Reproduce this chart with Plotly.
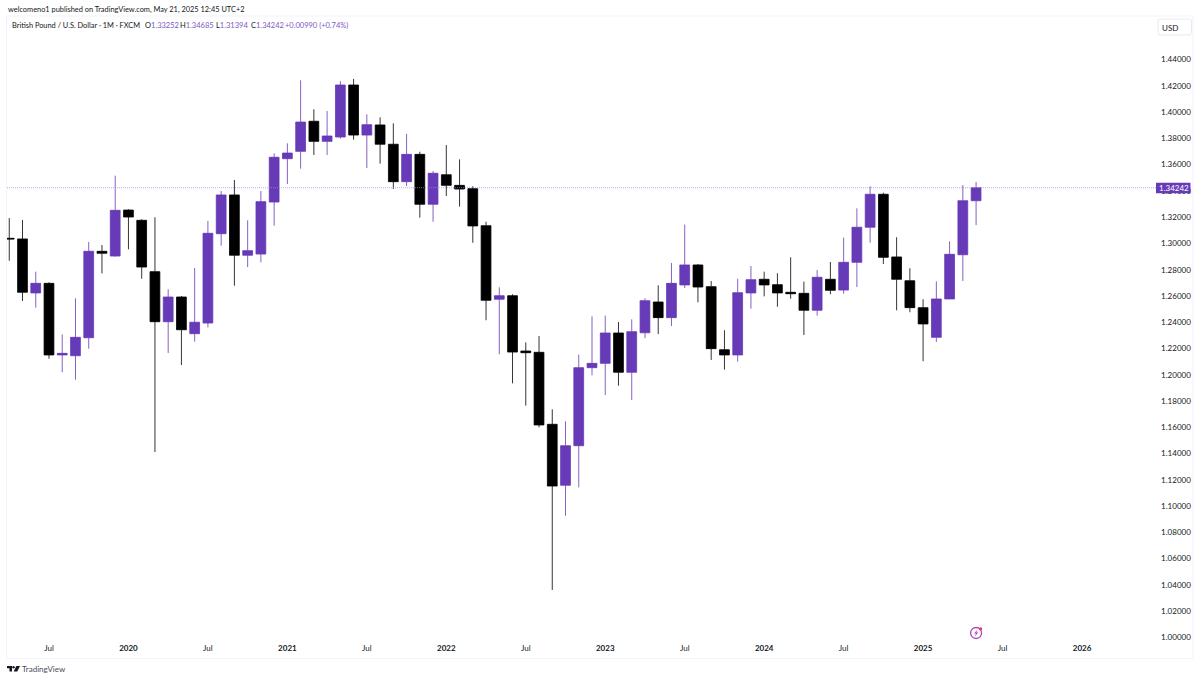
# plot.py: GBP/USD monthly candles, TradingView style snapshot
import plotly.graph_objects as go

# monthly bars, Apr 2019 .. May 2025
month_labels = [
    '2019-04', '2019-05', '2019-06', '2019-07', '2019-08', '2019-09', '2019-10', '2019-11', '2019-12',
    '2020-01', '2020-02', '2020-03', '2020-04', '2020-05', '2020-06', '2020-07', '2020-08', '2020-09', '2020-10', '2020-11', '2020-12',
    '2021-01', '2021-02', '2021-03', '2021-04', '2021-05', '2021-06', '2021-07', '2021-08', '2021-09', '2021-10', '2021-11', '2021-12',
    '2022-01', '2022-02', '2022-03', '2022-04', '2022-05', '2022-06', '2022-07', '2022-08', '2022-09', '2022-10', '2022-11', '2022-12',
    '2023-01', '2023-02', '2023-03', '2023-04', '2023-05', '2023-06', '2023-07', '2023-08', '2023-09', '2023-10', '2023-11', '2023-12',
    '2024-01', '2024-02', '2024-03', '2024-04', '2024-05', '2024-06', '2024-07', '2024-08', '2024-09', '2024-10', '2024-11', '2024-12',
    '2025-01', '2025-02', '2025-03', '2025-04', '2025-05',
]
opens = [
    1.3039, 1.3034, 1.2623, 1.2696, 1.2151, 1.2145, 1.2282, 1.2940, 1.2904,
    1.3254, 1.3176, 1.2785, 1.2404, 1.2592, 1.2313, 1.2394, 1.3074, 1.3369, 1.2910, 1.2919, 1.3315,
    1.3645, 1.3701, 1.3930, 1.3777, 1.3810, 1.4206, 1.3825, 1.3902, 1.3755, 1.3470, 1.3678, 1.3298,
    1.3523, 1.3442, 1.3417, 1.3135, 1.2575, 1.2602, 1.2181, 1.2171, 1.1623, 1.1159, 1.1460, 1.2054,
    1.2087, 1.2318, 1.2019, 1.2320, 1.2554, 1.2435, 1.2684, 1.2836, 1.2671, 1.2191, 1.2151, 1.2623,
    1.2727, 1.2686, 1.2628, 1.2620, 1.2491, 1.2727, 1.2645, 1.2856, 1.3123, 1.3374, 1.2897, 1.2716,
    1.2511, 1.2285, 1.2577, 1.2914, 1.33252,
]
highs = [
    1.3193, 1.3178, 1.2785, 1.2704, 1.2308, 1.2582, 1.3011, 1.2988, 1.3516,
    1.3260, 1.3184, 1.3199, 1.2651, 1.2600, 1.2813, 1.3171, 1.3399, 1.3483, 1.3176, 1.3399, 1.3686,
    1.3762, 1.4242, 1.4021, 1.4008, 1.4236, 1.4252, 1.3983, 1.3960, 1.3914, 1.3833, 1.3698, 1.3551,
    1.3749, 1.3640, 1.3435, 1.3165, 1.2666, 1.2613, 1.2247, 1.2295, 1.1737, 1.1646, 1.2153, 1.2445,
    1.2450, 1.2402, 1.2422, 1.2582, 1.2681, 1.2851, 1.3143, 1.2843, 1.2714, 1.2339, 1.2731, 1.2828,
    1.2785, 1.2773, 1.2894, 1.2709, 1.2798, 1.2859, 1.3044, 1.3267, 1.3435, 1.3386, 1.3047, 1.2811,
    1.2575, 1.2712, 1.3016, 1.3445, 1.34685,
]
lows = [
    1.2868, 1.2562, 1.2511, 1.2122, 1.2019, 1.1963, 1.2198, 1.2772, 1.2899,
    1.2955, 1.2731, 1.1412, 1.2166, 1.2074, 1.2252, 1.2361, 1.2983, 1.2678, 1.2820, 1.2856, 1.3135,
    1.3452, 1.3569, 1.3673, 1.3673, 1.3798, 1.3790, 1.3574, 1.3607, 1.3414, 1.3437, 1.3196, 1.3165,
    1.3361, 1.3280, 1.3005, 1.2415, 1.2156, 1.1935, 1.1765, 1.1600, 1.0362, 1.0927, 1.1143, 1.1996,
    1.1846, 1.1917, 1.1808, 1.2278, 1.2310, 1.2371, 1.2661, 1.2552, 1.2113, 1.2039, 1.2100, 1.2503,
    1.2597, 1.2518, 1.2579, 1.2303, 1.2450, 1.2613, 1.2617, 1.2668, 1.3005, 1.2843, 1.2491, 1.2476,
    1.2103, 1.2250, 1.2577, 1.2714, 1.31394,
]
closes = [
    1.3034, 1.2628, 1.2696, 1.2151, 1.2163, 1.2285, 1.2940, 1.2925, 1.3252,
    1.3201, 1.2820, 1.2404, 1.2592, 1.2343, 1.2400, 1.3077, 1.3369, 1.2910, 1.2945, 1.3318, 1.3656,
    1.3688, 1.3924, 1.3777, 1.3818, 1.4206, 1.3825, 1.3904, 1.3755, 1.3470, 1.3678, 1.3298, 1.3534,
    1.3442, 1.3414, 1.3133, 1.2567, 1.2602, 1.2173, 1.2168, 1.1618, 1.1153, 1.1460, 1.2054, 1.2087,
    1.2318, 1.2019, 1.2328, 1.2564, 1.2435, 1.2696, 1.2836, 1.2668, 1.2199, 1.2151, 1.2625, 1.2724,
    1.2684, 1.2623, 1.2617, 1.2491, 1.2742, 1.2643, 1.2856, 1.3123, 1.3374, 1.2894, 1.2727, 1.2511,
    1.2387, 1.2577, 1.2917, 1.3325, 1.34242,
]
last_price = 1.34242

time_tick_pos = [3, 9, 15, 21, 27, 33, 39, 45, 51, 57, 63, 69, 75, 81]
time_tick_text = ['Jul', '<b>2020</b>', 'Jul', '<b>2021</b>', 'Jul', '<b>2022</b>', 'Jul', '<b>2023</b>',
                  'Jul', '<b>2024</b>', 'Jul', '<b>2025</b>', 'Jul', '<b>2026</b>']
price_ticks = [1.00, 1.02, 1.04, 1.06, 1.08, 1.10, 1.12, 1.14, 1.16, 1.18, 1.20, 1.22, 1.24,
               1.26, 1.28, 1.30, 1.32, 1.34, 1.36, 1.38, 1.40, 1.42, 1.44]

PURPLE = '#673ab7'
VALUE_PURPLE = '#7e57c2'
INK = '#131722'
FONT = 'Lato'
W, H = 1200, 680
PLOT_L, PLOT_R, PLOT_T, PLOT_B = 6.5, 1156, 16, 642


def px(x):
    return (x - PLOT_L) / (PLOT_R - PLOT_L)


def py(y):
    return (PLOT_B - y) / (PLOT_B - PLOT_T)


def path(points):
    return 'M' + ' L'.join('%.5f,%.5f' % (px(x), py(y)) for x, y in points) + ' Z'


def rounded(x0, y0, x1, y1, r):
    p = lambda x, y: '%.5f,%.5f' % (px(x), py(y))
    return ('M' + p(x0 + r, y0) + ' L' + p(x1 - r, y0) + ' Q' + p(x1, y0) + ' ' + p(x1, y0 + r)
            + ' L' + p(x1, y1 - r) + ' Q' + p(x1, y1) + ' ' + p(x1 - r, y1)
            + ' L' + p(x0 + r, y1) + ' Q' + p(x0, y1) + ' ' + p(x0, y1 - r)
            + ' L' + p(x0, y0 + r) + ' Q' + p(x0, y0) + ' ' + p(x0 + r, y0) + ' Z')


def box(x0, y0, x1, y1, **kw):
    return dict(type='rect', xref='paper', yref='paper', x0=px(x0), x1=px(x1), y0=py(y0), y1=py(y1), **kw)


def ring(x, y, r, **kw):
    return dict(type='circle', xref='paper', yref='paper', x0=px(x - r), x1=px(x + r),
                y0=py(y + r), y1=py(y - r), **kw)


def label(x, y, text, anchor='left', size=8, color=INK, **kw):
    return dict(xref='paper', yref='paper', x=px(x), y=py(y), text=text, showarrow=False, xanchor=anchor,
                yanchor='middle', font=dict(family=FONT, size=size, color=color), **kw)


def ohlc_item(x, letter, value):
    return label(x - 2, 26, letter + '<span style="color:%s">%s</span>' % (VALUE_PURPLE, value), size=7.5)


fig = go.Figure(go.Candlestick(
    x=list(range(len(month_labels))), open=opens, high=highs, low=lows, close=closes,
    text=month_labels, whiskerwidth=0,
    increasing=dict(fillcolor=PURPLE, line=dict(color=PURPLE, width=0.8)),
    decreasing=dict(fillcolor='#000000', line=dict(color='#000000', width=0.8))))

shapes = [
    box(6, 16, 1193, 658.5, line=dict(color='#f0f3fa', width=1), layer='below'),
    dict(type='line', xref='paper', yref='y', x0=0, x1=1, y0=last_price, y1=last_price,
         line=dict(color='#a78bdb', width=0.7, dash='1px,1px')),
    box(1156, 182.7, 1190.5, 193.2, fillcolor=PURPLE, line=dict(width=0)),
    dict(type='path', xref='paper', yref='paper', path=rounded(1158, 19, 1191.5, 35, 2.5),
         line=dict(color='#e8eaf0', width=1), fillcolor='white'),
    # lightning badge
    ring(976, 633, 5.5, line=dict(color='#ab47bc', width=1.3)),
    ring(980.5, 628.8, 1.6, fillcolor='#f23645', line=dict(width=0)),
    dict(type='path', xref='paper', yref='paper', fillcolor='#ab47bc', line=dict(width=0),
         path=path([(977.5, 629.5), (974, 633.5), (976, 633.5), (974.5, 636.8), (978.2, 632.5), (976.2, 632.5)])),
    # TradingView logo
    dict(type='path', xref='paper', yref='paper', fillcolor=INK, line=dict(width=0),
         path=path([(6.5, 666), (11.5, 666), (11.5, 671.5), (9, 671.5), (9, 668.3), (6.5, 668.3)])),
    ring(13, 667.2, 1.2, fillcolor=INK, line=dict(width=0)),
    dict(type='path', xref='paper', yref='paper', fillcolor=INK, line=dict(width=0),
         path=path([(15.8, 666), (19.5, 666), (16.8, 671.5), (13.2, 671.5)])),
]

annotations = [
    label(5.5, 9.5, 'welcomeno1 published on TradingView.com, May 21, 2025 12:45 UTC+2', size=7.4),
    label(10, 26, 'British Pound / U.S. Dollar · 1M · FXCM', size=7.4),
    ohlc_item(145, 'O', '1.33252'),
    ohlc_item(180, 'H', '1.34685'),
    ohlc_item(215.7, 'L', '1.31394'),
    ohlc_item(250.7, 'C', '1.34242'),
    ohlc_item(285, '', '+0.00990 (+0.74%)'),
    label(1170, 27.5, 'USD', anchor='center'),
    label(1174, 188, '1.34242', anchor='center', color='#ffffff'),
    label(19.5, 669, 'TradingView', size=8, color='#4a4e59'),
]

fig.update_layout(
    width=W, height=H, autosize=False, paper_bgcolor='white', plot_bgcolor='white', showlegend=False,
    margin=dict(l=PLOT_L, r=W - PLOT_R, t=PLOT_T, b=H - PLOT_B, autoexpand=False),
    boxgap=0.26, boxgroupgap=0,
    font=dict(family=FONT, size=8, color=INK), shapes=shapes, annotations=annotations)
fig.update_xaxes(range=[-0.17, 86.585], rangeslider_visible=False, showgrid=False, zeroline=False, showline=False,
                 tickmode='array', tickvals=time_tick_pos, ticktext=time_tick_text, ticks='')
fig.update_yaxes(range=[0.99657, 1.47313], side='right', showgrid=False, zeroline=False, showline=False,
                 tickmode='array', tickvals=price_ticks, tickformat='.5f', ticks='outside', ticklen=2.5,
                 tickcolor='white')

# the page's default body margin would push the chart 8px off the window corner
fig.write_html('out.html', config=dict(displayModeBar=False), post_script="document.body.style.margin='0';")
